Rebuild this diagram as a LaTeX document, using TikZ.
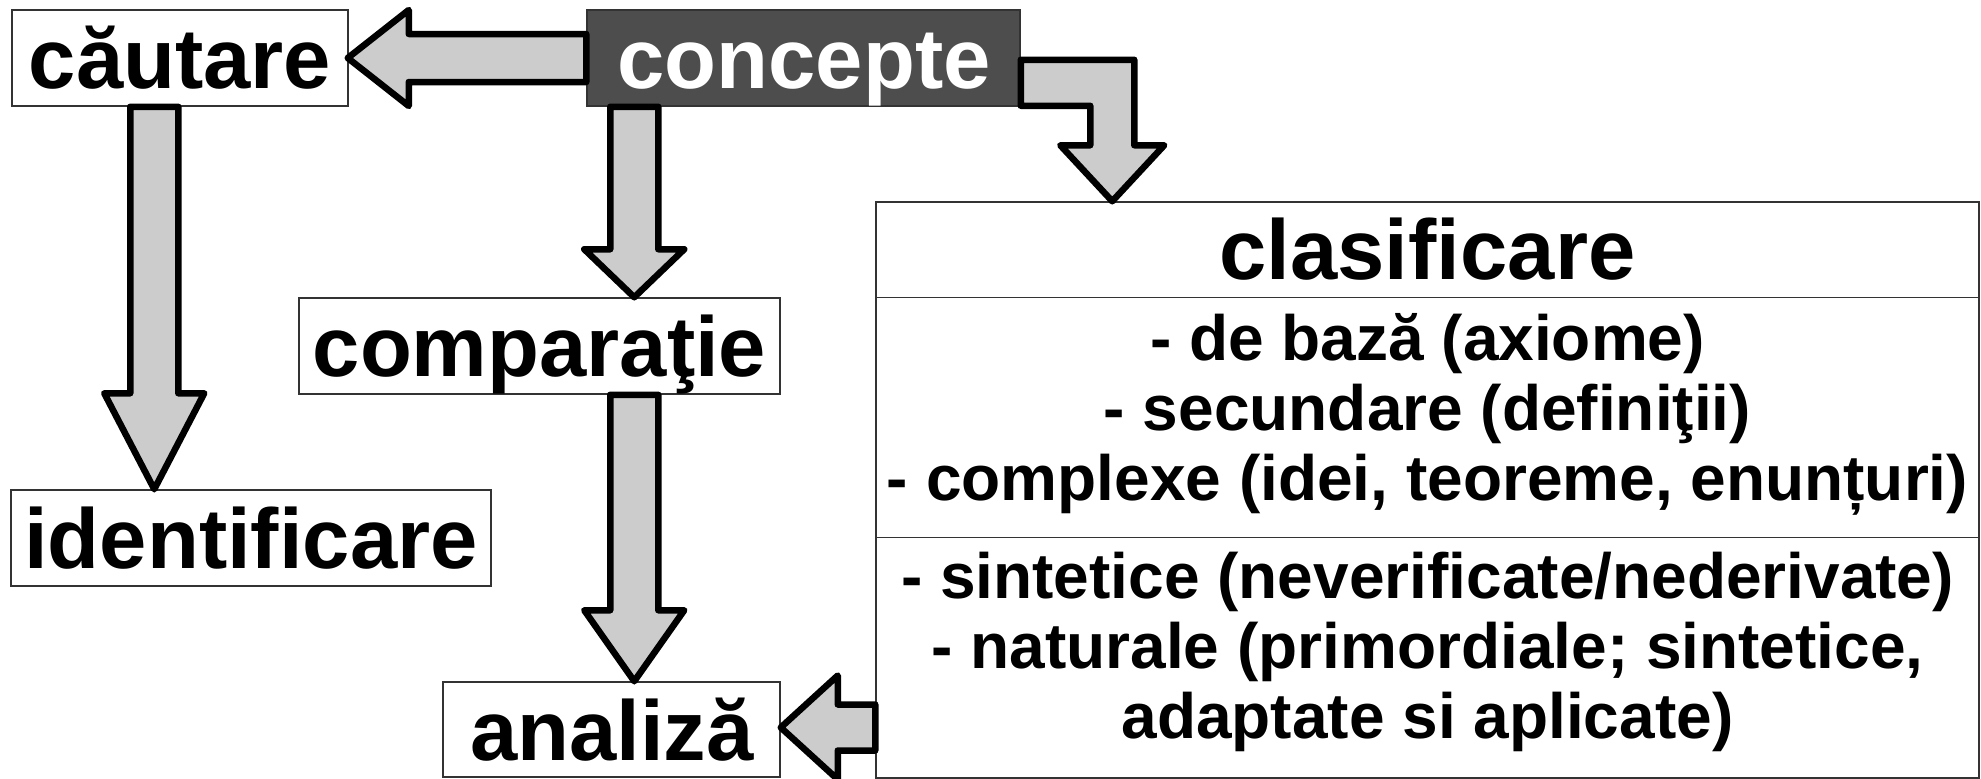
\documentclass[tikz,border=0pt]{standalone}
\usepackage{fontspec}
\setmainfont{Liberation Sans}
\usetikzlibrary{calc}
\definecolor{arrowgray}{HTML}{CCCCCC}
\definecolor{darkbox}{HTML}{4D4D4D}
\begin{document}
\begin{tikzpicture}[x=1pt,y=-1pt,
  box/.style={draw=black!80, line width=1.5pt, fill=white, inner sep=0pt},
  boxline/.style={draw=black!80, line width=1.5pt},
  bigarrow/.style={draw=black, line width=6.5pt, fill=arrowgray, line join=round},
  title/.style={font=\fontsize{85}{85}\selectfont\bfseries, anchor=base, inner sep=0pt},
  item/.style={font=\fontsize{64}{64}\selectfont\bfseries, anchor=base, inner sep=0pt}]
\useasboundingbox[fill=white] (0,0) rectangle (1981,779);

% boxes
\node[box, minimum width=336pt, minimum height=96pt] (cautare) at (180,58) {};
\node[box, fill=darkbox, minimum width=433pt, minimum height=96pt] (concepte) at (803.5,58) {};
\node[box, minimum width=481pt, minimum height=96pt] (comparatie) at (539.5,346) {};
\node[box, minimum width=480pt, minimum height=96pt] (identificare) at (251,538) {};
\node[box, minimum width=337pt, minimum height=95pt] (analiza) at (611.5,729.5) {};
\node[box, minimum width=1103pt, minimum height=576pt] (clas) at (1427.5,490) {};
\draw[boxline] ($(clas.north west)+(0,96)$) -- ($(clas.north east)+(0,96)$);
\draw[boxline] ($(clas.north west)+(0,336)$) -- ($(clas.north east)+(0,336)$);

% connector coordinates
\coordinate (aT) at ($(cautare.east)+(-1,0)$);
\coordinate (aS) at (concepte.west);
\coordinate (bS) at ($(cautare.south west)+(143,0)$);
\coordinate (bT) at (bS |- identificare.north);
\coordinate (cS) at ($(concepte.south west)+(48,0)$);
\coordinate (cT) at (cS |- comparatie.north);
\coordinate (dS) at (cS |- comparatie.south);
\coordinate (dT) at (cS |- analiza.north);
\coordinate (eT) at ($(analiza.east)+(0,-2)$);
\coordinate (eS) at (clas.west |- eT);
\coordinate (fS) at ($(concepte.south east)+(0,-24)$);
\coordinate (fT) at ($(clas.north west)+(237,0)$);
\coordinate (fC) at (fT |- fS);

% concepte -> cautare
\draw[bigarrow] ($(aS)+(0,-24)$) -- ($(aT)+(61,-24)$) -- ($(aT)+(61,-48)$) -- (aT)
  -- ($(aT)+(61,48)$) -- ($(aT)+(61,24)$) -- ($(aS)+(0,24)$) -- cycle;
% cautare -> identificare
\draw[bigarrow] ($(bS)+(-24,0)$) -- ($(bT)+(-24,-96)$) -- ($(bT)+(-50,-96)$) -- (bT)
  -- ($(bT)+(50,-96)$) -- ($(bT)+(24,-96)$) -- ($(bS)+(24,0)$) -- cycle;
% concepte -> comparatie
\draw[bigarrow] ($(cS)+(-24,0)$) -- ($(cT)+(-24,-48)$) -- ($(cT)+(-50,-48)$) -- (cT)
  -- ($(cT)+(50,-48)$) -- ($(cT)+(24,-48)$) -- ($(cS)+(24,0)$) -- cycle;
% comparatie -> analiza
\draw[bigarrow] ($(dS)+(-24,0)$) -- ($(dT)+(-24,-71)$) -- ($(dT)+(-50,-71)$) -- (dT)
  -- ($(dT)+(50,-71)$) -- ($(dT)+(24,-71)$) -- ($(dS)+(24,0)$) -- cycle;
% clasificare -> analiza
\draw[bigarrow] ($(eS)+(0,-23)$) -- ($(eT)+(57,-23)$) -- ($(eT)+(57,-52)$) -- (eT)
  -- ($(eT)+(57,52)$) -- ($(eT)+(57,23)$) -- ($(eS)+(0,23)$) -- cycle;
% concepte -> clasificare (bent)
\draw[bigarrow] ($(fS)+(0,-23)$) -- ($(fC)+(22,-23)$) -- ($(fT)+(22,-56)$) -- ($(fT)+(52,-56)$)
  -- (fT) -- ($(fT)+(-52,-56)$) -- ($(fT)+(-22,-56)$) -- ($(fC)+(-22,23)$) -- ($(fS)+(0,23)$) -- cycle;

% texts
\node[title] (tcaut) at (180,88) {căutare};
\node[title, text=white] (tconc) at (804,88) {concepte};
\node[title] (tcomp) at (539.5,376) {comparaţie};
\node[title] (tiden) at (251,568) {identificare};
\node[title] (tanal) at (612,760) {analiză};
\node[title] (tclas) at (1427.5,279) {clasificare};
\node[item] (l1) at (1427.5,360) {- de bază (axiome)};
\node[item] (l2) at (1427.5,430) {- secundare (definiţii)};
\node[item] (l3) at (1427.5,500) {- complexe (idei, teoreme, enunțuri)};
\node[item] (l4) at (1427.5,598) {- sintetice (neverificate/nederivate)};
\node[item] (l5) at (1427.5,668) {- naturale (primordiale; sintetice,};
\node[item] (l6) at (1427.5,738) {adaptate si aplicate)};
\end{tikzpicture}
\end{document}
